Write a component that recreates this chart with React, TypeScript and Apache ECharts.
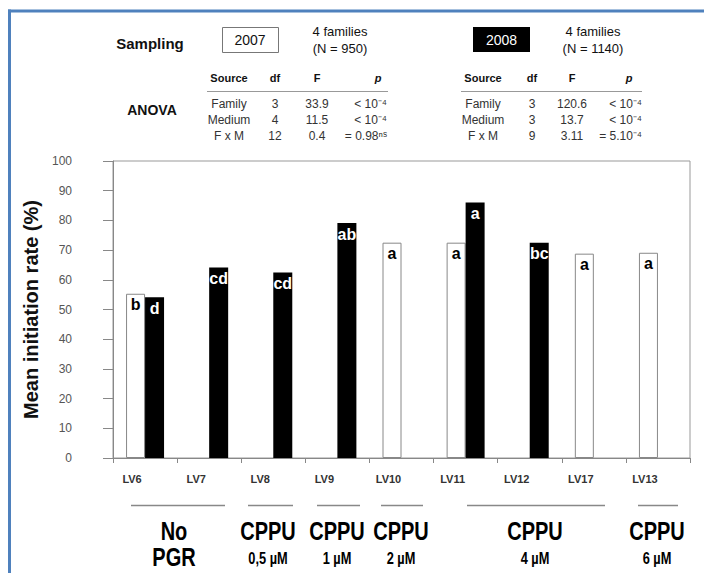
import React, { useEffect, useRef } from "react";
import * as echarts from "echarts";

const categories = ["LV6", "LV7", "LV8", "LV9", "LV10", "LV11", "LV12", "LV17", "LV13"];
const values2007 = [55.3, null, null, null, 72.5, 72.5, null, 68.8, 69.1];
const values2008 = [54.1, 64.1, 62.5, 79.1, null, 86, 72.5, null, null];
const letters2007 = ["b", "", "", "", "a", "a", "", "a", "a"];
const letters2008 = ["d", "cd", "cd", "ab", "", "a", "bc", "", ""];

const anovaHeader = ["Source", "df", "F", "p"];
const anovaSources = ["Family", "Medium", "F x M"];
const df2007 = ["3", "4", "12"];
const f2007 = ["33.9", "11.5", "0.4"];
const p2007 = ["< 10⁻⁴", "< 10⁻⁴", "= 0.98ⁿˢ"];
const df2008 = ["3", "3", "9"];
const f2008 = ["120.6", "13.7", "3.11"];
const p2008 = ["< 10⁻⁴", "< 10⁻⁴", "= 5.10⁻⁴"];

const groupTop = ["No", "CPPU", "CPPU", "CPPU", "CPPU", "CPPU"];
const groupBottom = ["PGR", "0,5 µM", "1 µM", "2 µM", "4 µM", "6 µM"];

const SANS = "'Liberation Sans', Arial, Helvetica, sans-serif";

function txt(x: number, y: number, text: string, size: number, opts: any = {}) {
  return {
    type: "text",
    x,
    y,
    scaleX: opts.scaleX || 1,
    silent: true,
    style: {
      text,
      fill: opts.fill || "#111",
      fontSize: size,
      fontWeight: opts.bold ? "bold" : "normal",
      fontStyle: opts.italic ? "italic" : "normal",
      fontFamily: SANS,
      textAlign: opts.align || "center",
      textVerticalAlign: "middle",
    },
  };
}

function hline(x1: number, x2: number, y: number, color = "#888", w = 1) {
  return {
    type: "line",
    silent: true,
    shape: { x1, y1: y, x2, y2: y },
    style: { stroke: color, lineWidth: w },
  };
}

export default function App() {
  const ref = useRef<HTMLDivElement>(null);
  useEffect(() => {
    if (!ref.current) return;
    const chart = echarts.init(ref.current, undefined, { renderer: "svg" });

    const graphics: any[] = [];
    // blue frame
    graphics.push({
      type: "line", silent: true,
      shape: { x1: 9.5, y1: 9.5, x2: 9.5, y2: 580 },
      style: { stroke: "#4f81bd", lineWidth: 3 },
    });
    graphics.push({
      type: "line", silent: true,
      shape: { x1: 8, y1: 11, x2: 710, y2: 11 },
      style: { stroke: "#4f81bd", lineWidth: 3 },
    });

    // Sampling row
    graphics.push(txt(150, 43, "Sampling", 15, { bold: true }));
    graphics.push({
      type: "rect", silent: true,
      shape: { x: 222.5, y: 27.5, width: 56, height: 25 },
      style: { fill: "#fff", stroke: "#777", lineWidth: 1 },
    });
    graphics.push(txt(250, 40, "2007", 14));
    graphics.push(txt(340, 31, "4 families", 13));
    graphics.push(txt(340, 48, "(N = 950)", 13));
    graphics.push({
      type: "rect", silent: true,
      shape: { x: 473, y: 27, width: 57, height: 25 },
      style: { fill: "#000" },
    });
    graphics.push(txt(501.5, 40, "2008", 14, { fill: "#fff" }));
    graphics.push(txt(593, 31, "4 families", 13));
    graphics.push(txt(593, 48, "(N = 1140)", 13));

    graphics.push(txt(152, 110, "ANOVA", 14, { bold: true }));

    const tables = [
      { cols: [229, 275, 317, 387], pHead: 378, line: [207, 388], df: df2007, f: f2007, p: p2007 },
      { cols: [483, 532, 572, 642], pHead: 629, line: [461, 642], df: df2008, f: f2008, p: p2008 },
    ];
    const rowY = [104, 120, 136];
    tables.forEach((t) => {
      graphics.push(txt(t.cols[0], 78, anovaHeader[0], 11, { bold: true }));
      graphics.push(txt(t.cols[1], 78, anovaHeader[1], 11, { bold: true }));
      graphics.push(txt(t.cols[2], 78, anovaHeader[2], 11, { bold: true }));
      graphics.push(txt(t.pHead, 78, anovaHeader[3], 11, { bold: true, italic: true }));
      graphics.push(hline(t.line[0], t.line[1], 91.5, "#999", 1));
      rowY.forEach((y, i) => {
        graphics.push(txt(t.cols[0], y, anovaSources[i], 12, { fill: "#333" }));
        graphics.push(txt(t.cols[1], y, t.df[i], 12, { fill: "#333" }));
        graphics.push(txt(t.cols[2], y, t.f[i], 12, { fill: "#333" }));
        graphics.push(txt(t.cols[3], y, t.p[i], 12, { fill: "#333", align: "right" }));
      });
    });

    // group annotations under the axis
    const groupLines = [
      [131, 225], [248, 293], [317, 360], [381, 423], [467, 605], [638, 678],
    ];
    const groupCenters = [174, 268, 337, 401, 535, 657];
    groupLines.forEach((g, i) => {
      graphics.push(hline(g[0], g[1], 505.5, "#888", 1.5));
      graphics.push(txt(groupCenters[i], 532, groupTop[i], 25, { bold: true, fill: "#000", scaleX: 0.8 }));
      graphics.push(
        txt(groupCenters[i], 558, groupBottom[i], i === 0 ? 25 : 16, { bold: true, fill: "#000", scaleX: 0.8 })
      );
    });

    const labelStyle = {
      show: true,
      position: "insideTop",
      distance: 3,
      fontSize: 16,
      fontWeight: "bold",
      fontFamily: SANS,
    };

    chart.setOption({
      animation: false,
      backgroundColor: "#fff",
      grid: {
        left: 113, right: 14, top: 161, bottom: 115,
        show: true, borderColor: "#999", borderWidth: 1, backgroundColor: "transparent",
      },
      xAxis: {
        type: "category",
        data: categories,
        axisLine: { lineStyle: { color: "#888", width: 1 } },
        axisTick: { show: true, length: 5, interval: 0, lineStyle: { color: "#888" } },
        axisLabel: {
          interval: 0, margin: 15, fontSize: 11, fontWeight: "bold", color: "#333",
          fontFamily: SANS, padding: [0, 26, 0, 0],
        },
        splitLine: { show: false },
      },
      yAxis: {
        type: "value",
        min: 0, max: 100, interval: 10,
        name: "Mean initiation rate (%)",
        nameLocation: "middle",
        nameRotate: 90,
        nameGap: 64,
        nameTextStyle: { fontSize: 20, fontWeight: "bold", color: "#111", fontFamily: SANS },
        axisLine: { show: true, lineStyle: { color: "#888", width: 1 } },
        axisTick: { show: true, length: 10, lineStyle: { color: "#888" } },
        axisLabel: { margin: 41, fontSize: 12, color: "#555", fontFamily: SANS },
        splitLine: { show: false },
      },
      series: [
        {
          name: "2007",
          type: "bar",
          data: values2007,
          barWidth: 19,
          barGap: "0%",
          itemStyle: { color: "#fff", borderColor: "#888", borderWidth: 1 },
          label: { ...labelStyle, color: "#000", formatter: (p: any) => letters2007[p.dataIndex] },
        },
        {
          name: "2008",
          type: "bar",
          data: values2008,
          barWidth: 19,
          barGap: "0%",
          itemStyle: { color: "#000" },
          label: { ...labelStyle, color: "#fff", formatter: (p: any) => letters2008[p.dataIndex] },
        },
      ],
      graphic: graphics,
    });
    return () => chart.dispose();
  }, []);
  return (
    <div
      ref={ref}
      style={{ position: "absolute", left: 0, top: 0, width: 704, height: 573, background: "#fff" }}
    />
  );
}
